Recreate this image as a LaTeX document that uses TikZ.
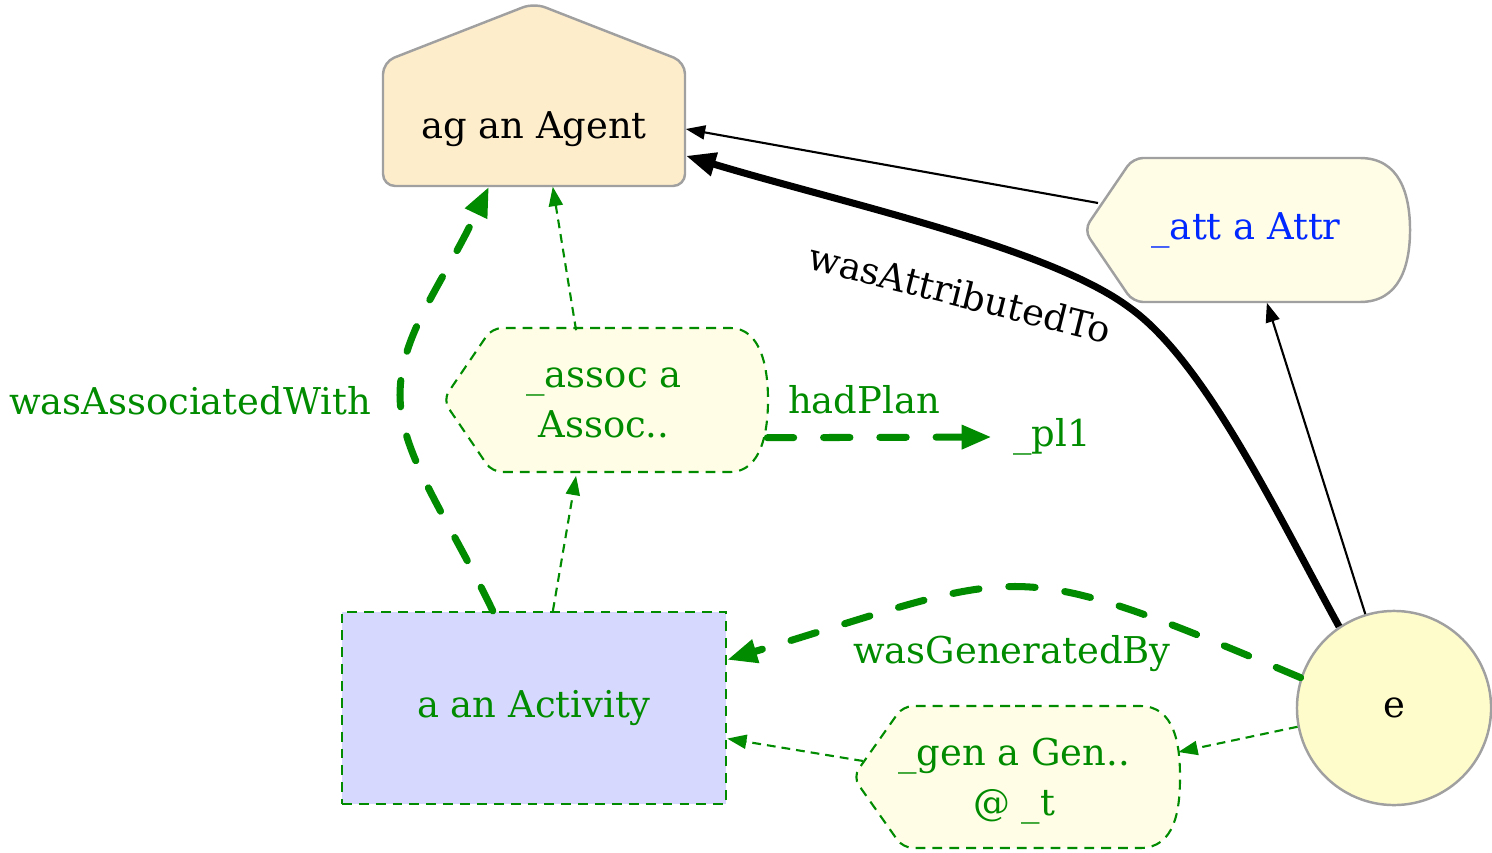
\documentclass[tikz,border=0pt]{standalone}
\usepackage{fontspec}
\setmainfont{DejaVu Serif}
\usepackage{tikz}
\usetikzlibrary{arrows.meta}
\definecolor{provgreen}{RGB}{0,139,0}
\definecolor{provblue}{RGB}{0,40,255}
\definecolor{provgray}{RGB}{160,160,160}
\definecolor{agentfill}{RGB}{254,237,203}
\definecolor{activityfill}{RGB}{214,216,254}
\definecolor{entityfill}{RGB}{255,252,204}
\definecolor{qualfill}{RGB}{255,253,230}
\tikzstyle{txt}=[font=\fontsize{10.5}{14.2}\selectfont, inner sep=0pt, align=center]
\tikzstyle{agentshape}=[draw=provgray, fill=agentfill, line width=0.7pt, rounded corners=0.12cm]
\tikzstyle{attrshape}=[draw=provgray, fill=qualfill, line width=0.7pt, rounded corners=0.1cm]
\tikzstyle{qualshape}=[draw=provgreen, fill=qualfill, line width=0.6pt, dash pattern=on 2.8pt off 2pt, rounded corners=0.1cm]
\tikzstyle{plainedge}=[draw=black, line width=0.6pt, -{Triangle[length=5.5pt, width=4pt]}]
\tikzstyle{boldedge}=[draw=black, line width=2pt, -{Triangle[length=8.5pt, width=6.5pt]}]
\tikzstyle{greenedge}=[draw=provgreen, line width=0.6pt, dash pattern=on 2.5pt off 1.7pt, -{Triangle[length=5.5pt, width=4pt]}]
\tikzstyle{greenbold}=[draw=provgreen, line width=2pt, line cap=round, dash pattern=on 7.5pt off 8.5pt, -{Triangle[length=8.5pt, width=6.5pt]}]

\begin{document}
\begin{tikzpicture}[x=0.01cm, y=-0.01cm]
	\useasboundingbox (0,0) rectangle (1492,852);
	\draw[agentshape] (534,186) -- (383,186) -- (383,62) -- (534,3) -- (685,62) -- (685,186) -- cycle;
	\draw[attrshape] (1240,158) -- (1133,158) -- (1084,230) -- (1133,302) -- (1240,302) [sharp corners] -- (1360,302)
		.. controls (1400,302) and (1410,265) .. (1410,230) .. controls (1410,195) and (1400,158) .. (1360,158) -- cycle;
	\draw[qualshape] (600,328) -- (492,328) -- (443,400) -- (492,472) -- (600,472) [sharp corners] -- (730,472)
		.. controls (762,472) and (768,430) .. (768,400) .. controls (768,370) and (762,328) .. (730,328) -- cycle;
	\draw[qualshape] (1010,706) -- (903,706) -- (853,777) -- (903,848) -- (1010,848) [sharp corners] -- (1140,848)
		.. controls (1175,848) and (1180,810) .. (1180,777) .. controls (1180,745) and (1175,706) .. (1140,706) -- cycle;

	\node (ag) at (534,129)[txt, minimum width=3.02cm, minimum height=1.14cm] {ag an Agent};
	\node (att) at (1246,230)[txt, text=provblue, minimum width=3.25cm, minimum height=1.44cm] {\_att a Attr};
	\node (assoc) at (604,403)[txt, text=provgreen, minimum width=3.25cm, minimum height=1.44cm] {\_assoc a\\Assoc..};
	\node (gen) at (1014,781)[txt, text=provgreen, minimum width=3.27cm, minimum height=1.42cm] {\_gen a Gen..\\@ \_t};
	\node (a) at (534,708)[txt, text=provgreen, draw=provgreen, fill=activityfill, line width=0.6pt, dash pattern=on 2.8pt off 2pt, minimum width=3.84cm, minimum height=1.92cm] {a an Activity};
	\node (e) at (1394,708)[txt, circle, draw=provgray, fill=entityfill, line width=0.7pt, minimum size=1.94cm] {e};
	\node (pl1) at (1052,437)[txt, text=provgreen, inner sep=6pt] {\_pl1};

	\node (lassoc) at (190,401)[txt, text=provgreen] {wasAssociatedWith};
	\node (lplan) at (864,400)[txt, text=provgreen] {hadPlan};
	\node (lgen) at (1012,654)[txt, text=provgreen] {wasGeneratedBy};
	\node (lattr) at (960,293)[txt, rotate=-14] {wasAttributedTo};

	\draw[plainedge] ([shift={(-148,-27)}]att.center) -- (ag.east);
	\draw[boldedge] (e.124) .. controls (1275,510) and (1205,362) .. (1130,308) .. controls (1050,248) and (850,205) .. (ag.-10);
	\draw[plainedge] (e.107) -- (att.-74);
	\draw[greenbold] (a.113) .. controls (448,517) and (400,455) .. (400,395) .. controls (400,335) and (441,287) .. (ag.-128);
	\draw[greenedge] (a.79) -- (assoc.-111);
	\draw[greenedge] (assoc.111) -- (ag.-72);
	\draw[greenbold] (assoc.-12) -- (pl1.west);
	\draw[greenbold] (e.162) .. controls (1003,552) and (1028,569) .. (a.14);
	\draw[greenedge] (e.191) -- (gen.10);
	\draw[greenedge] ([shift={(-151,-20)}]gen.center) -- (a.-9);
\end{tikzpicture}
\end{document}
